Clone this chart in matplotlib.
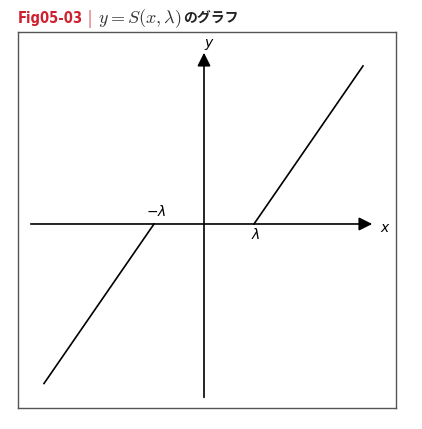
import matplotlib.pyplot as plt
import numpy as np

# soft-threshold S(x, lam), lam = 1
lam = 1.0
x_right = [1.0, 3.18]
x_left = [-3.2, -1.0]
x_axis = [-3.52, 3.42]
y_axis = [-2.43, 2.40]
y_scale = 1.45  # vertical stretch seen in the figure


def S(x, lam):
    x = np.asarray(x)
    return np.sign(x) * np.maximum(np.abs(x) - lam, 0) * y_scale


plt.rcParams['mathtext.fontset'] = 'cm'

fig = plt.figure(figsize=(4.22, 4.29), dpi=100)
ax = fig.add_axes([18 / 422, 21 / 429, 378 / 422, 376 / 429])
ax.set_xlim(-3.72, 3.84)
ax.set_ylim(-2.538 * y_scale, 2.648 * y_scale)
ax.set_xticks([])
ax.set_yticks([])
for s in ax.spines.values():
    s.set_color('#555555')
    s.set_linewidth(1.0)

ax.plot(x_right, S(x_right, lam), color='k', lw=1.2)
ax.plot(x_left, S(x_left, lam), color='k', lw=1.2)

ax.annotate('', xy=(x_axis[1], 0), xytext=(x_axis[0], 0),
            arrowprops=dict(arrowstyle='-|>', color='k', lw=1.2, mutation_scale=20))
ax.annotate('', xy=(0, y_axis[1] * y_scale), xytext=(0, y_axis[0] * y_scale),
            arrowprops=dict(arrowstyle='-|>', color='k', lw=1.2, mutation_scale=20))

ax.text(3.6, -0.08, 'x', fontsize=10, fontstyle='italic', va='center', ha='center')
ax.text(0.08, 2.5 * y_scale, 'y', fontsize=10, fontstyle='italic', va='center', ha='center')
ax.text(-0.96, 0.1, r'$-\lambda$', fontsize=10, ha='center', va='bottom',
        math_fontfamily='dejavusans')
ax.text(1.04, -0.07, r'$\lambda$', fontsize=10, ha='center', va='top',
        math_fontfamily='dejavusans')

# title pieces placed one after another
ty = 1 - 19 / 429
r = fig.canvas.get_renderer()
t1 = fig.text(18 / 422, ty, 'Fig05-03', family='DejaVu Sans', fontstretch='condensed',
              fontweight='bold', color='#d02030', fontsize=10.5, va='center')
x = t1.get_window_extent(r).x1 + 4
t2 = fig.text(x / 422, ty, '|', color='#e8a0a8', fontsize=12, va='center',
              fontweight='bold')
x = t2.get_window_extent(r).x1 + 5
t3 = fig.text(x / 422, ty, r'$y = S(x,\lambda)$', fontsize=13, va='center',
              color='#333333')
x = t3.get_window_extent(r).x1 + 1
fig.text(x / 422, ty, 'のグラフ', family=['Noto Sans CJK JP', 'DejaVu Sans'],
         fontweight='bold', fontsize=10, va='center', color='#222222')

fig.savefig('out.png', dpi=100)
